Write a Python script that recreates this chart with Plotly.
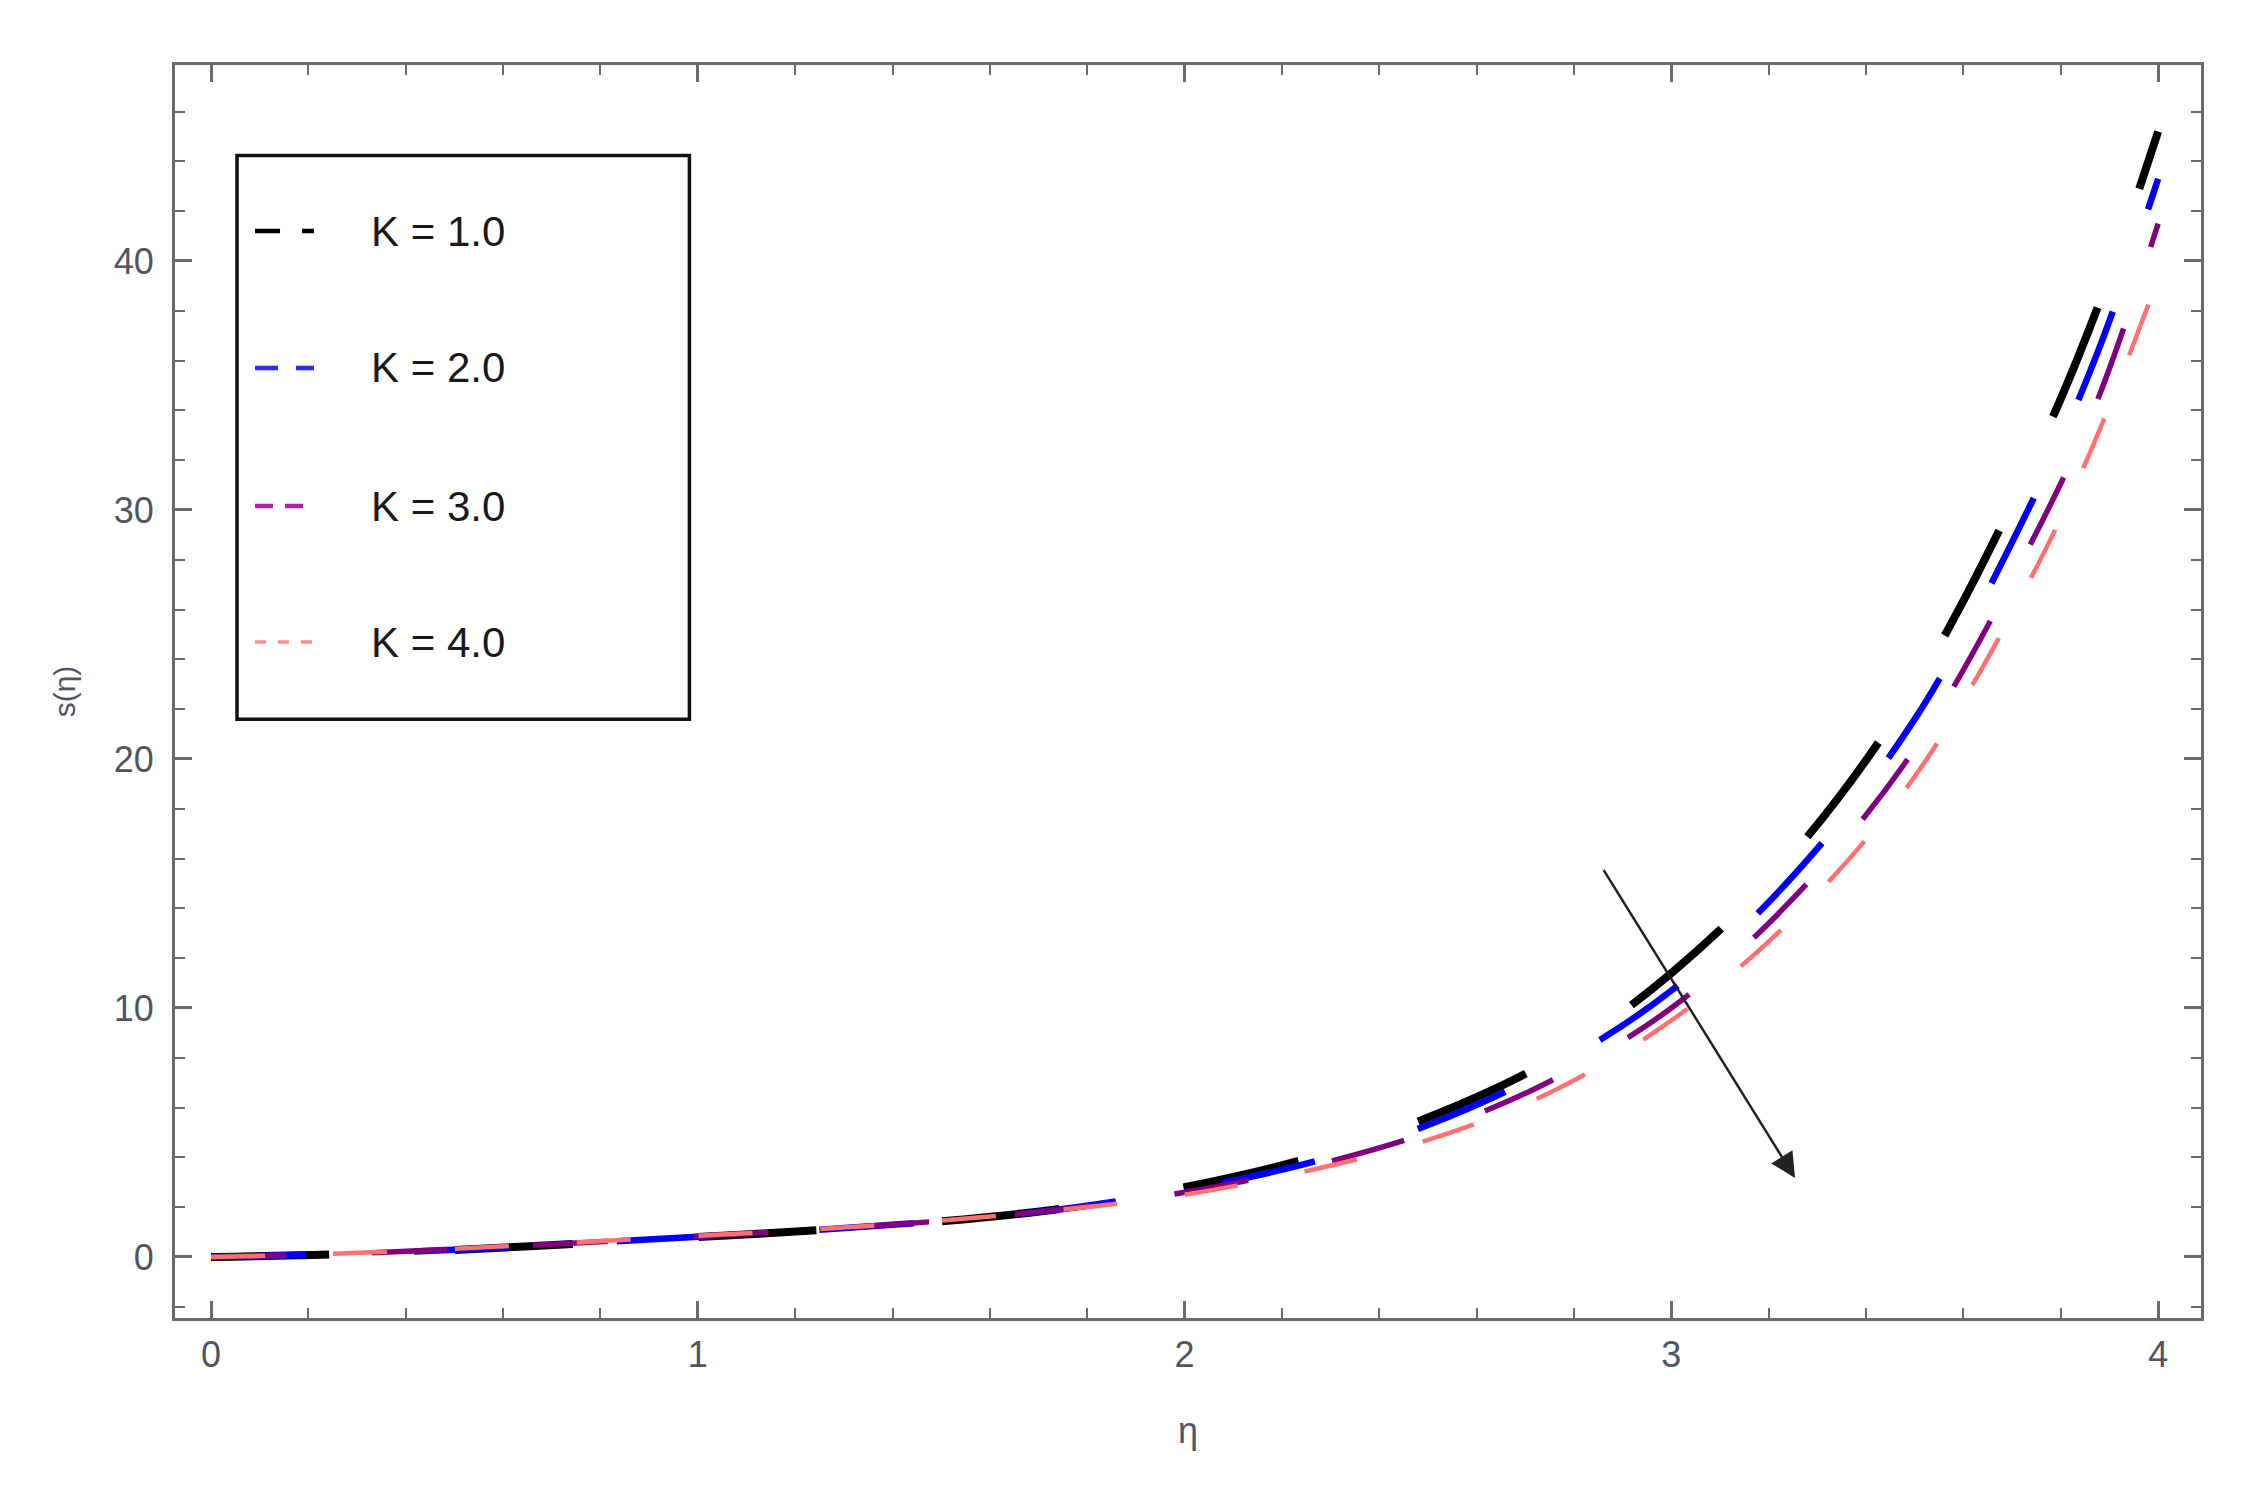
import plotly.graph_objects as go

# ---------------- data ----------------
eta = [0, 0.25, 0.5, 0.75, 1.0, 1.25, 1.5, 1.75, 2.0, 2.25, 2.5, 2.75,
       3.0, 3.25, 3.5, 3.75, 3.875, 4.0]

s_K1 = [0, 0.10, 0.28, 0.53, 0.80, 1.08, 1.43, 1.95, 2.80, 3.95, 5.60, 7.90,
        11.4, 16.2, 22.9, 32.3, 38.1, 45.2]
s_K2 = [0, 0.11, 0.29, 0.54, 0.81, 1.09, 1.44, 1.93, 2.70, 3.75, 5.30, 7.55,
        10.7, 15.3, 21.6, 30.7, 36.3, 43.3]
s_K3 = [0, 0.12, 0.31, 0.56, 0.83, 1.11, 1.45, 1.92, 2.60, 3.60, 5.00, 7.05,
        10.0, 14.4, 20.4, 29.1, 34.4, 41.5]
s_K4 = [0, 0.13, 0.33, 0.58, 0.85, 1.12, 1.46, 1.90, 2.50, 3.45, 4.70, 6.60,
        9.5, 13.6, 19.3, 27.7, 33.0, 39.3]

series_names = ["K = 1.0", "K = 2.0", "K = 3.0", "K = 4.0"]
series_values = [s_K1, s_K2, s_K3, s_K4]

x_ticks = [0, 1, 2, 3, 4]
y_ticks = [0, 10, 20, 30, 40]

# ---------------- styles ----------------
colors = ["#000000", "#0000FF", "#800080", "#FF7070"]
legend_colors = ["#000000", "#2a2aff", "#b020b0", "#ff8c8c"]
widths = [8.0, 6.5, 5.5, 4.5]
dashes = ["118px,126px", "95px,108px", "75px,86px", "54px,68px"]
legend_dashes = ["25px,22px", "23px,18px", "18px,12px", "11px,12px"]
legend_widths = [4.5, 4.5, 4.5, 3.5]

FONT = "Liberation Sans, Arial, sans-serif"
AXIS_COLOR = "#6b6b6b"
LABEL_COLOR = "#505560"

fig = go.Figure()
for name, vals, c, w, d in zip(series_names, series_values, colors, widths, dashes):
    fig.add_trace(go.Scatter(
        x=eta, y=vals, mode="lines", name=name, showlegend=False,
        line=dict(color=c, width=w, dash=d, shape="spline", smoothing=1.0),
    ))

# ---------------- manual legend (box, samples, labels) ----------------
box = dict(x0=0.0306, x1=0.2539, y0=0.4778, y1=0.9277)
row_y = [0.8675, 0.7582, 0.6480, 0.5395]
sample_x0, sample_x1 = 0.0395, 0.0686
text_x = 0.0958

shapes = [dict(type="rect", xref="paper", yref="paper", **box,
               line=dict(color="#111111", width=3.5), fillcolor="rgba(0,0,0,0)")]
annotations = []
for name, yy, c, d, lw in zip(series_names, row_y, legend_colors, legend_dashes, legend_widths):
    shapes.append(dict(type="line", xref="paper", yref="paper",
                       x0=sample_x0, x1=sample_x1, y0=yy, y1=yy,
                       line=dict(color=c, width=lw, dash=d)))
    annotations.append(dict(xref="paper", yref="paper", x=text_x, y=yy,
                            text=name, showarrow=False, xanchor="left",
                            yanchor="middle",
                            font=dict(family=FONT, size=42, color="#1a1a1a")))

# arrow indicating increasing K
arrow_head = (3.254, 3.17)
arrow_tail = (2.859, 15.6)
annotations.append(dict(x=arrow_head[0], y=arrow_head[1], xref="x", yref="y",
                        ax=arrow_tail[0], ay=arrow_tail[1], axref="x", ayref="y",
                        text="", showarrow=True, arrowhead=2, arrowsize=2.0,
                        arrowwidth=2.5, arrowcolor="#222222"))

axis_common = dict(
    showline=True, linecolor=AXIS_COLOR, linewidth=3, mirror="allticks",
    ticks="inside", tickcolor=AXIS_COLOR, tickwidth=2.5, ticklen=17,
    showgrid=False, zeroline=False,
    tickfont=dict(family=FONT, size=36, color=LABEL_COLOR),
)

fig.update_layout(
    width=2244, height=1484,
    margin=dict(l=167, r=51, t=57, b=174),
    paper_bgcolor="white", plot_bgcolor="white",
    shapes=shapes, annotations=annotations,
    xaxis=dict(range=[-0.074, 4.088], tickvals=x_ticks,
               minor=dict(dtick=0.2, tick0=0, ticks="inside", ticklen=10,
                          tickwidth=2, tickcolor=AXIS_COLOR),
               ticklabelstandoff=3,
               title=dict(text="η", standoff=44,
                          font=dict(family=FONT, size=36, color=LABEL_COLOR)),
               **axis_common),
    yaxis=dict(range=[-2.45, 47.87], tickvals=y_ticks,
               minor=dict(dtick=2, tick0=0, ticks="inside", ticklen=10,
                          tickwidth=2, tickcolor=AXIS_COLOR),
               ticklabelstandoff=11,
               title=dict(text="s(η)", standoff=30,
                          font=dict(family=FONT, size=30, color=LABEL_COLOR)),
               **axis_common),
)

fig.write_html("out.html")
